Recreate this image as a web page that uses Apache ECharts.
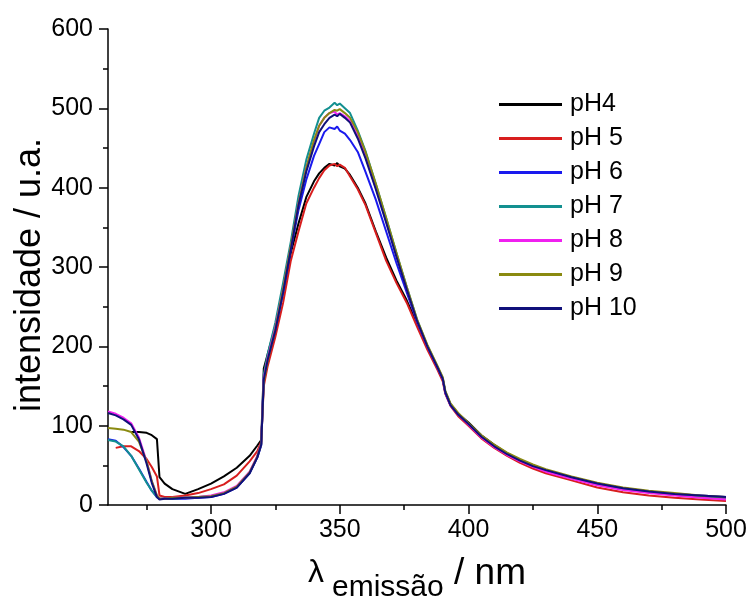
<!DOCTYPE html>
<html>
<head>
<meta charset="utf-8">
<script src="https://cdn.jsdelivr.net/npm/echarts@6/dist/echarts.min.js"></script>
<style>
html,body{margin:0;padding:0;background:#fff;}
#chart{width:749px;height:599px;}
</style>
</head>
<body>
<div id="chart"></div>
<script>
const wavelength = [260,263,266,269,272,275,277,279,280,282,285,290,295,300,305,310,315,318,319.5,320.5,322,325,328,331,334,337,340,342,344,346,348,349,350,352,354,357,360,364,368,372,376,380,384,388,390,391,393,396,400,405,410,415,420,425,430,440,450,460,470,480,490,500];

const pH4 = [null,null,null,92,92,91,88,83,35,27,
  20,14,20,27,36,47,62,75,82,172,
  190,226,270,318,355,388,408,418,425,430,
  428,431,427,424,416,400,380,345,312,283,
  258,229,200,172,158,142,127,115,104,88,
  76,65,57,50,44,35,27,21,17,13,
  11,9];
const pH5 = [null,72,74,74,68,58,48,36,12,10,
  10,12,15,20,26,37,55,68,80,150,
  175,212,255,308,345,380,400,412,422,428,
  430,427,429,425,414,398,378,343,308,280,
  255,225,196,170,156,140,125,112,100,84,
  72,62,53,46,40,31,22,16,12,9,
  7,5];
const pH6 = [83,81,73,62,46,29,18,10,8,8,
  8,8,9,10,14,22,40,60,75,160,
  185,222,268,322,372,410,440,455,470,476,
  474,477,472,468,460,445,420,385,345,305,
  268,231,200,173,159,141,126,114,102,86,
  74,64,56,49,43,34,26,21,17,14,
  12,10];
const pH7 = [82,80,74,62,45,28,18,10,8,8,
  8,9,10,11,15,23,41,61,77,165,
  190,230,280,332,390,435,468,488,497,501,
  507,504,506,500,494,472,446,405,362,318,
  275,234,201,174,160,143,127,115,102,87,
  75,65,57,50,44,35,27,21,17,14,
  11,9];
const pH8 = [118,115,110,103,85,55,30,12,8,8,
  9,9,10,12,16,24,42,62,78,160,
  185,224,272,325,380,425,458,478,488,494,
  496,492,494,490,484,465,440,400,358,315,
  273,232,200,173,159,142,126,114,101,85,
  73,63,55,48,42,33,25,19,15,12,
  9,7];
const pH9 = [97,96,95,92,80,55,30,12,8,8,
  9,9,10,11,15,23,41,61,77,155,
  182,222,272,326,380,425,460,478,488,494,
  498,497,499,494,488,470,445,405,362,318,
  275,234,202,175,161,144,128,116,103,88,
  76,66,58,51,45,36,28,22,18,15,
  12,10];
const pH10 = [116,113,108,101,83,52,28,10,7,8,
  8,9,9,10,14,22,40,60,76,158,
  183,220,268,322,378,420,452,470,480,488,
  492,490,493,488,482,462,437,398,356,313,
  272,232,200,173,159,142,126,114,102,86,
  74,64,56,49,44,35,27,21,17,14,
  12,10];

const seriesNames = ['pH4','pH 5','pH 6','pH 7','pH 8','pH 9','pH 10'];
const seriesValues = [pH4,pH5,pH6,pH7,pH8,pH9,pH10];
const seriesColors = ['#000000','#d81e1e','#1a1aee','#139090','#f020f0','#8a8a10','#10107a'];

const xMajorTicks = [300,350,400,450,500];
const xMinorTicks = [275,325,375,425,475];
const yTicks = [0,100,200,300,400,500,600];

const FONT = '"Liberation Sans", Arial, sans-serif';
const chart = echarts.init(document.getElementById('chart'), null, {renderer:'canvas'});

const series = seriesNames.map((name, k) => ({
  name: name,
  type: 'line',
  xAxisIndex: 0,
  yAxisIndex: 0,
  showSymbol: false,
  symbol: 'none',
  smooth: false,
  data: wavelength.map((x, i) => [x, seriesValues[k][i]]),
  lineStyle: {color: seriesColors[k], width: 2},
  itemStyle: {color: seriesColors[k]},
  emphasis: {disabled: true}
}));

chart.setOption({
  animation: false,
  backgroundColor: '#ffffff',
  textStyle: {fontFamily: FONT, color: '#000'},
  grid: {left: 108, right: 23, top: 29, bottom: 94, containLabel: false, outerBoundsMode: 'none'},
  legend: {
    orient: 'vertical',
    left: 499,
    top: 92,
    padding: 0,
    itemWidth: 63,
    itemHeight: 3,
    itemGap: 9,
    icon: 'rect',
    data: seriesNames,
    textStyle: {fontSize: 25, color: '#000', fontFamily: FONT, lineHeight: 24, height: 24, padding: [0,0,0,3]}
  },
  xAxis: [{
    type: 'value',
    min: 260,
    max: 500,
    position: 'bottom',
    name: '{l|λ}{s|emissão}{n| / nm}',
    nameLocation: 'middle',
    nameGap: 50,
    nameMoveOverlap: false,
    nameTextStyle: {
      color: '#000',
      rich: {
        l: {fontSize: 32, fontFamily: FONT, color: '#000', padding: [0, 8, 16, 0]},
        s: {fontSize: 30, fontFamily: FONT, color: '#000', padding: [12, 0, 0, 0]},
        n: {fontSize: 37, fontFamily: FONT, color: '#000', padding: [0, 0, 16, 0]}
      }
    },
    axisLine: {show: true, lineStyle: {color: '#000', width: 1.5}},
    axisTick: {show: true, length: 9, customValues: xMajorTicks, lineStyle: {color: '#000', width: 1.5}},
    axisLabel: {show: true, customValues: xMajorTicks, fontSize: 25, color: '#000', fontFamily: FONT, margin: 13},
    splitLine: {show: false}
  }, {
    type: 'value',
    min: 260,
    max: 500,
    gridIndex: 0,
    position: 'bottom',
    axisLine: {show: false},
    axisTick: {show: true, length: 5, customValues: xMinorTicks, lineStyle: {color: '#000', width: 1.5}},
    axisLabel: {show: false},
    splitLine: {show: false}
  }],
  yAxis: {
    type: 'value',
    min: 0,
    max: 600,
    interval: 100,
    name: 'intensidade / u.a.',
    nameLocation: 'middle',
    nameGap: 60,
    nameMoveOverlap: false,
    nameTextStyle: {fontSize: 36, color: '#000', fontFamily: FONT, padding: [0, 16, 0, 0]},
    axisLine: {show: true, lineStyle: {color: '#000', width: 1.5}},
    axisTick: {show: true, length: 9, customValues: yTicks, lineStyle: {color: '#000', width: 1.5}},
    minorTick: {show: true, splitNumber: 2, length: 5, lineStyle: {color: '#000', width: 1.5}},
    axisLabel: {fontSize: 25, color: '#000', fontFamily: FONT, margin: 15, customValues: yTicks},
    splitLine: {show: false},
    minorSplitLine: {show: false}
  },
  series: series
});
</script>
</body>
</html>
